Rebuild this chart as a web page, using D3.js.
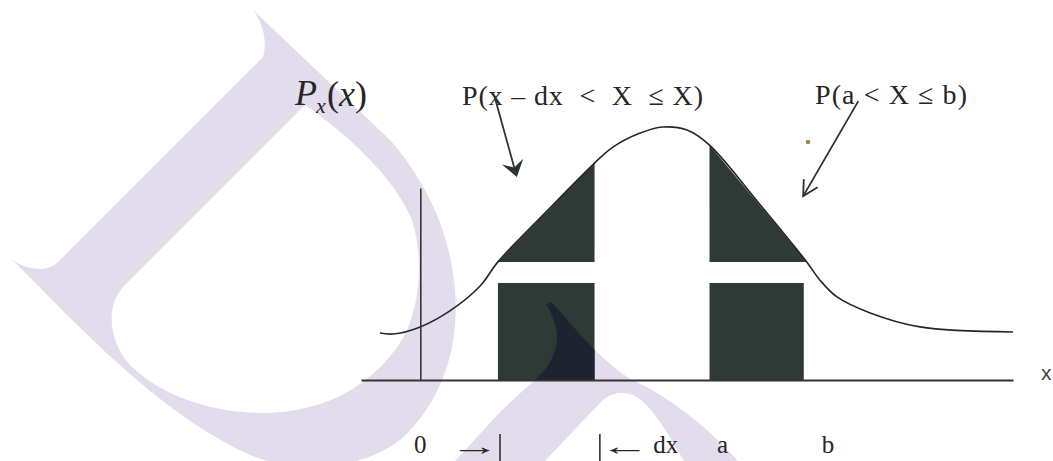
<!DOCTYPE html>
<html>
<head>
<meta charset="utf-8">
<script src="https://cdn.jsdelivr.net/npm/d3@7"></script>
<style>
  html, body { margin: 0; padding: 0; background: #ffffff; }
  svg { display: block; }
  .serif { font-family: "Liberation Serif", "Times New Roman", "DejaVu Serif", serif; }
  .sans { font-family: "Liberation Sans", Arial, sans-serif; }
</style>
</head>
<body>
<script>
// ---------------- data ----------------
const curveX = [-6.8, -4.6, 0, 5.0, 10.1, 13.1, 21.2, 29.4, 32.5, 37.1, 40.9, 45.0, 48.8, 57.1, 65.2, 67.4, 70.3, 75.9, 84.3, 100];
const curveY = [18.5, 18.1, 20.9, 27.2, 37.0, 46.5, 66.1, 85.4, 91.7, 97.2, 99.6, 98.4, 92.5, 69.7, 46.5, 39.4, 32.7, 26.4, 20.9, 18.9];
const dxRange = [13.1, 29.4];          // x - dx .. x
const abRange = [48.8, 64.7];          // a .. b
const abTriangleEnd = 65.2;            // where the curve meets the cut on the right
const upperCut = 46.5;                 // bottom of the upper (triangular) shading
const lowerTop = 38.2;                 // top of the lower (rectangular) shading
const yAxisTop = 75.6;
const bottomLabels = ["0", "dx", "a", "b"];
const bottomLabelX = [0, 41.4, 51.0, 68.8];
const arrowGlyphs = ["\u2192", "\u2190"];
const arrowGlyphX = [9.2, 34.5];
const barX = [13.45, 30.3];
const annotations = ["P(x \u2013 dx  <  X  \u2264 X)", "P(a < X \u2264 b)"];

// ---------------- setup ----------------
const W = 1053, H = 461;
const svg = d3.select("body").append("svg").attr("width", W).attr("height", H);
const x = d3.scaleLinear().domain([-10, 100]).range([361, 1013]);
const y = d3.scaleLinear().domain([0, 100]).range([380, 126]);
const pdf = d3.scaleLinear().domain(curveX).range(curveY);

const ink = "#262626";
const fillDark = "#2e3a36";
const lav = "#e3dcec";

// ---------------- watermark ----------------
const dPath = "M253,10 C262,22 268,40 263,57 L57,263 C45,273 25,270 10,258 " +
  "C60,305 150,410 250,455 C300,475 360,470 400,440 C440,405 460,350 455,290 " +
  "C450,230 425,180 390,140 L253,10 Z " +
  "M305,105 C355,140 395,180 412,220 C425,260 420,320 395,350 C365,390 320,412 265,413 " +
  "C210,413 160,395 130,365 C108,340 105,305 125,285 L305,105 Z";
const aPath = "M455,461 L490,423 C508,403 524,390 537,378 C552,365 560,345 556,328 " +
  "C553,317 550,310 546,304 L551,302 C568,320 582,338 598,353 C612,366 625,378 645,386 " +
  "C680,405 712,432 738,461 L684,461 C672,440 652,405 635,396 C625,391 612,392 603,400 " +
  "C585,418 565,440 545,461 Z";
const wm = svg.append("g");
wm.append("path").attr("d", dPath).attr("fill", lav).attr("fill-rule", "evenodd");
wm.append("path").attr("d", aPath).attr("fill", lav);

// ---------------- shaded blocks ----------------
const poly = d3.line().x(d => x(d[0])).y(d => y(d[1]));
const leftTri = [[dxRange[0], pdf(dxRange[0])], [dxRange[1], pdf(dxRange[1])], [dxRange[1], upperCut]];
const rightTri = [[abRange[0], pdf(abRange[0])], [abTriangleEnd, upperCut], [abRange[0], upperCut]];
svg.selectAll("path.tri").data([leftTri, rightTri]).join("path")
  .attr("class", "tri")
  .attr("d", d => poly(d) + "Z")
  .attr("fill", fillDark);

const blocks = [dxRange, abRange];
svg.selectAll("rect.blk").data(blocks).join("rect")
  .attr("class", "blk")
  .attr("x", d => x(d[0]))
  .attr("y", y(lowerTop))
  .attr("width", d => x(d[1]) - x(d[0]))
  .attr("height", y(0) - y(lowerTop))
  .attr("fill", fillDark);

// watermark overlap over the dark block
svg.append("clipPath").attr("id", "clipBlk").append("rect")
  .attr("x", x(dxRange[0])).attr("y", y(lowerTop))
  .attr("width", x(dxRange[1]) - x(dxRange[0])).attr("height", y(0) - y(lowerTop));
svg.append("path").attr("d", aPath).attr("fill", "#1e2331").attr("clip-path", "url(#clipBlk)");

// ---------------- curve ----------------
const line = d3.line().x((d, i) => x(curveX[i])).y((d, i) => y(curveY[i])).curve(d3.curveCatmullRom.alpha(0.5));
svg.append("path").datum(curveY).attr("d", line)
  .attr("fill", "none").attr("stroke", ink).attr("stroke-width", 1.6);

// ---------------- axes ----------------
const xAxis = d3.axisBottom(x).tickValues([]).tickSizeOuter(0);
const gx = svg.append("g").attr("transform", `translate(0,${y(0)})`).call(xAxis);
gx.select(".domain").attr("stroke", "#333").attr("stroke-width", 2);

const yAxisScale = d3.scaleLinear().domain([0, yAxisTop]).range([y(0), y(yAxisTop)]);
const gy = svg.append("g").attr("transform", `translate(${x(0)},0)`)
  .call(d3.axisLeft(yAxisScale).tickValues([]).tickSizeOuter(0));
gy.select(".domain").attr("stroke", "#333").attr("stroke-width", 1.6);

// axis name x at right
svg.append("text").attr("class", "sans").attr("x", 1041).attr("y", 380)
  .style("font-size", "21px").attr("fill", "#444").text("x");

// bottom labels
svg.selectAll("text.bl").data(bottomLabels).join("text")
  .attr("class", "bl serif")
  .attr("x", (d, i) => x(bottomLabelX[i]))
  .attr("y", 453)
  .attr("text-anchor", "middle")
  .style("font-size", "25px")
  .attr("fill", ink)
  .text(d => d);
svg.selectAll("text.ar").data(arrowGlyphs).join("text")
  .attr("class", "ar serif")
  .attr("transform", (d, i) => `translate(${x(arrowGlyphX[i])},455) scale(2,1)`)
  .attr("text-anchor", "middle")
  .style("font-size", "25px")
  .attr("fill", ink)
  .text(d => d);
svg.selectAll("line.bar").data(barX).join("line")
  .attr("class", "bar")
  .attr("x1", d => x(d)).attr("x2", d => x(d))
  .attr("y1", 434).attr("y2", 461)
  .attr("stroke", ink).attr("stroke-width", 1.5);

// ---------------- annotations ----------------
const pl = svg.append("text").attr("class", "serif").attr("fill", ink).attr("y", 105);
pl.append("tspan").attr("x", 295).style("font-size", "36px").style("font-style", "italic").text("P");
pl.append("tspan").attr("x", 316).attr("y", 113).style("font-size", "22px").style("font-style", "italic").text("x");
pl.append("tspan").attr("x", 327).attr("y", 106).style("font-size", "36px").text("(");
pl.append("tspan").style("font-size", "36px").style("font-style", "italic").text("x");
pl.append("tspan").style("font-size", "36px").text(")");

svg.append("text").attr("class", "serif").attr("x", 462).attr("y", 105)
  .style("font-size", "28px").attr("fill", ink)
  .style("white-space", "pre")
  .attr("textLength", 241).attr("lengthAdjust", "spacing")
  .text(annotations[0]);
svg.append("text").attr("class", "serif").attr("x", 815).attr("y", 104)
  .style("font-size", "28px").attr("fill", ink)
  .style("white-space", "pre")
  .attr("textLength", 152).attr("lengthAdjust", "spacing")
  .text(annotations[1]);

// arrows (in data coordinates)
function arrow(p0, p1, filled) {
  const a = [x(p0[0]), y(p0[1])], b = [x(p1[0]), y(p1[1])];
  const dx = b[0] - a[0], dy = b[1] - a[1], L = Math.hypot(dx, dy);
  const ux = dx / L, uy = dy / L, px = uy, py = -ux;
  const hl = filled ? 16 : 15, hw = filled ? 11 : 8;
  const back = [b[0] - hl * ux, b[1] - hl * uy];
  const w1 = [back[0] - hw * px, back[1] - hw * py];
  const w2 = [back[0] + hw * px, back[1] + hw * py];
  if (filled) {
    const notch = [b[0] - 10 * ux, b[1] - 10 * uy];
    svg.append("line").attr("x1", a[0]).attr("y1", a[1]).attr("x2", notch[0]).attr("y2", notch[1])
      .attr("stroke", "#2b3331").attr("stroke-width", 1.8);
    svg.append("path").attr("d", `M${b}L${w1}L${notch}L${w2}Z`).attr("fill", "#2b3331");
  } else {
    svg.append("line").attr("x1", a[0]).attr("y1", a[1]).attr("x2", b[0]).attr("y2", b[1])
      .attr("stroke", "#2b3331").attr("stroke-width", 1.8);
    svg.append("path").attr("d", `M${w1}L${b}L${w2}`).attr("fill", "none")
      .attr("stroke", "#2b3331").attr("stroke-width", 1.8);
  }
}
arrow([12.6, 111.0], [16.3, 79.9], true);
arrow([73.9, 109.8], [64.6, 72.4], false);

// small speck
svg.append("circle").attr("cx", 808).attr("cy", 142).attr("r", 2.3).attr("fill", "#9c8a44");
</script>
</body>
</html>
